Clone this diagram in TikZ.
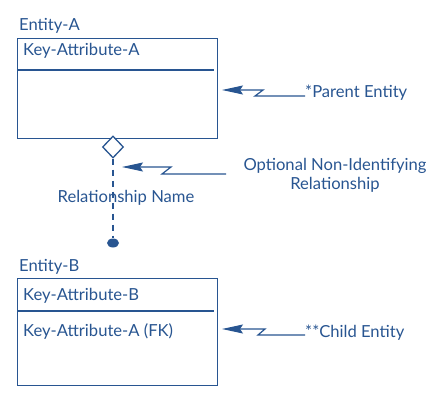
\documentclass[tikz,border=0pt]{standalone}
\usepackage{fontspec}
\setmainfont{Lato}
\usetikzlibrary{arrows.meta,positioning,shapes.geometric}
\definecolor{erblue}{RGB}{40,85,145}

\begin{document}
\begin{tikzpicture}[x=1pt,y=-1pt,lbl/.style={font=\fontsize{16.6}{19}\selectfont,text=erblue,inner sep=0pt},entbox/.style={draw=erblue,line width=1.4pt,fill=white,minimum width=200pt,inner sep=0pt},note/.style={{Stealth[length=21pt,width=9pt,inset=3pt]}-,line width=1.2pt,draw=erblue}]
\useasboundingbox (0,0) rectangle (445,404);

% Parent entity box with its key compartment
\node[lbl,anchor=base west] (nameA) at (19,31) {Entity-A};
\node[entbox,minimum height=100pt,anchor=north west] (boxA) at (17,38) {};
\draw[erblue,line width=1.2pt] ([yshift=-32pt]boxA.north west)--([xshift=-4pt,yshift=-32pt]boxA.north east);
\node[lbl,anchor=base west] (keyA) at (23,56) {Key-Attribute-A};

% Child entity box
\node[lbl,anchor=base west] (nameB) at (19,271) {Entity-B};
\node[entbox,minimum height=107pt,anchor=north west] (boxB) at (17,278) {};
\draw[erblue,line width=1.2pt] ([yshift=-33pt]boxB.north west)--([xshift=-4pt,yshift=-33pt]boxB.north east);
\node[lbl,anchor=base west] (keyB) at (23,300) {Key-Attribute-B};
\node[lbl,anchor=base west] (fkA) at (23,336) {Key-Attribute-A (FK)};

% Relationship line: diamond on the parent, dot on the child
\node[lbl,anchor=base] (relname) at (126,202) {Relationship Name};
\node[diamond,draw=erblue,line width=1.3pt,fill=white,minimum width=21pt,minimum height=22pt,inner sep=0pt] (agg) at (113,147) {};
\node[ellipse,fill=erblue,minimum width=12pt,minimum height=9pt,inner sep=0pt] (dot) at (113,243) {};
\draw[erblue,line width=1.3pt,dash pattern=on 6pt off 5pt] (agg.south)--(dot.north);

% Callouts
\node[lbl,anchor=base west] (parentNote) at (305,98) {*Parent Entity};
\coordinate (tipA) at (222,90);
\draw[note] (tipA)--(263,90)--(255,96)--([yshift=2pt]parentNote.base west);
\node[lbl,align=center] (relNote) at (335,175) {Optional Non-Identifying\\Relationship};
\coordinate (tipR) at (122,167);
\coordinate (relEnd) at (226,174);
\draw[note] (tipR)--(171,167)--(162,174)--(relEnd);
\node[lbl,anchor=base west] (childNote) at (305,337) {**Child Entity};
\coordinate (tipB) at (222,329);
\draw[note] (tipB)--(265,329)--(258,335)--([yshift=2pt]childNote.base west);
\end{tikzpicture}
\end{document}
